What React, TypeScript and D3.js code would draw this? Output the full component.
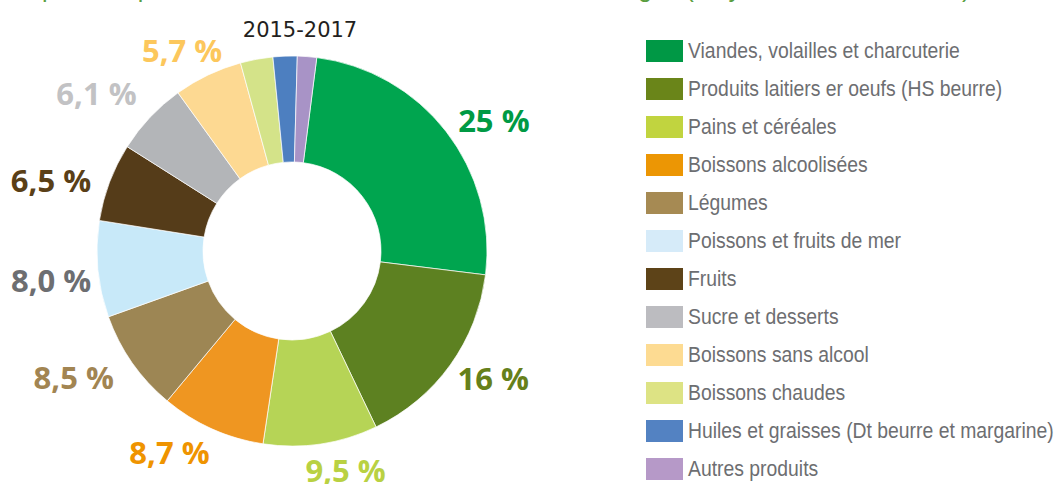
import React from "react";
import * as d3 from "d3";

// ---- data ----
const categories = [
  "Viandes, volailles et charcuterie",
  "Produits laitiers er oeufs (HS beurre)",
  "Pains et céréales",
  "Boissons alcoolisées",
  "Légumes",
  "Poissons et fruits de mer",
  "Fruits",
  "Sucre et desserts",
  "Boissons sans alcool",
  "Boissons chaudes",
  "Huiles et graisses (Dt beurre et margarine)",
  "Autres produits",
];
const values = [25, 16, 9.5, 8.7, 8.5, 8.0, 6.5, 6.1, 5.7, 2.7, 2.0, 1.6];
const valueLabels = ["25 %", "16 %", "9,5 %", "8,7 %", "8,5 %", "8,0 %", "6,5 %", "6,1 %", "5,7 %", "", "", ""];
const periodLabel = "2015-2017";
const headTitle = "Répartition par nature des achats alimentaires des ménages (moyenne annuelle en %)";

// ---- styles ----
const sliceColors = ["#00a54f", "#5d8121", "#b6d456", "#ef9621", "#9d8654", "#c8e9f9", "#553c19", "#b3b5b8", "#fdd992", "#d4e389", "#4d7fc0", "#a893c6"];
const legendColors = ["#009845", "#6a8519", "#c1d43f", "#ec9604", "#a68a53", "#d6ebf9", "#5d4318", "#bcbcc0", "#fddb92", "#dde384", "#5382c2", "#b699c8"];
const labelColors = ["#009a44", "#66801a", "#b9d142", "#ef9400", "#a28552", "#6d6e71", "#5a3f17", "#c2c2c4", "#fcc75c", "", "", ""];
// small manual layout adjustments for outside labels (px)
const labelNudge: [number, number][] = [[6, 6], [0, -1], [17, 1], [-21, 0], [-15, 0], [6, 9], [-9, 8], [-15, -5], [-3, 0], [0, 0], [0, 0], [0, 0]];

const W = 1054;
const H = 484;
const cx = 292;
const cy = 251;
const outerR = 195;
const innerR = 89;
const startDeg = 7.3;
const narrowFont = "'Liberation Sans', Arial, sans-serif";

export default function App() {
  const pie = d3
    .pie<number>()
    .sort(null)
    .value((d) => d)
    .startAngle((startDeg * Math.PI) / 180)
    .endAngle((startDeg * Math.PI) / 180 + 2 * Math.PI);
  const arcs = pie(values);
  const arc = d3.arc<d3.PieArcDatum<number>>().innerRadius(innerR).outerRadius(outerR);

  const A = 210;
  const LW = 76;
  const LH = 23;

  const legendY = d3.scaleBand<number>().domain(d3.range(categories.length)).range([40, 40 + 38 * 12]).paddingInner(0);

  return (
    <svg width={W} height={H} style={{ position: "absolute", left: 0, top: 0, background: "#fff" }}>
      <g transform="translate(10,-3) scale(1.0,1)">
        <text x={0} y={0} fill="#5a9e3f" fontFamily={narrowFont} fontSize={25}>
          {headTitle}
        </text>
      </g>
      <text x={300} y={37} textAnchor="middle" fill="#231f20" fontFamily="'DejaVu Sans', sans-serif" fontSize={21}>
        {periodLabel}
      </text>
      <g transform={`translate(${cx},${cy})`}>
        {arcs.map((a, i) => (
          <path key={i} d={arc(a) || ""} fill={sliceColors[i]} stroke="#fff" strokeWidth={0.7} />
        ))}
      </g>
      {arcs.map((a, i) => {
        if (!valueLabels[i]) return null;
        const th = (a.startAngle + a.endAngle) / 2;
        const x = cx + (A + LW / 2) * Math.sin(th) + labelNudge[i][0];
        const y = cy - (A + LH / 2) * Math.cos(th) + labelNudge[i][1];
        return (
          <text
            key={"l" + i}
            x={x}
            y={y + 11}
            textAnchor="middle"
            fill={labelColors[i]}
            fontFamily="'Open Sans', sans-serif"
            fontWeight={700}
            fontSize={31}
          >
            {valueLabels[i]}
          </text>
        );
      })}
      {categories.map((c, i) => {
        const y0 = legendY(i) as number;
        return (
          <g key={"g" + i}>
            <rect x={646} y={y0} width={37} height={22} fill={legendColors[i]} />
            <g transform={`translate(688,${y0 + 17.5}) scale(0.88,1)`}>
              <text x={0} y={0} fill="#6d6e71" fontFamily={narrowFont} fontSize={22}>
                {c}
              </text>
            </g>
          </g>
        );
      })}
    </svg>
  );
}
